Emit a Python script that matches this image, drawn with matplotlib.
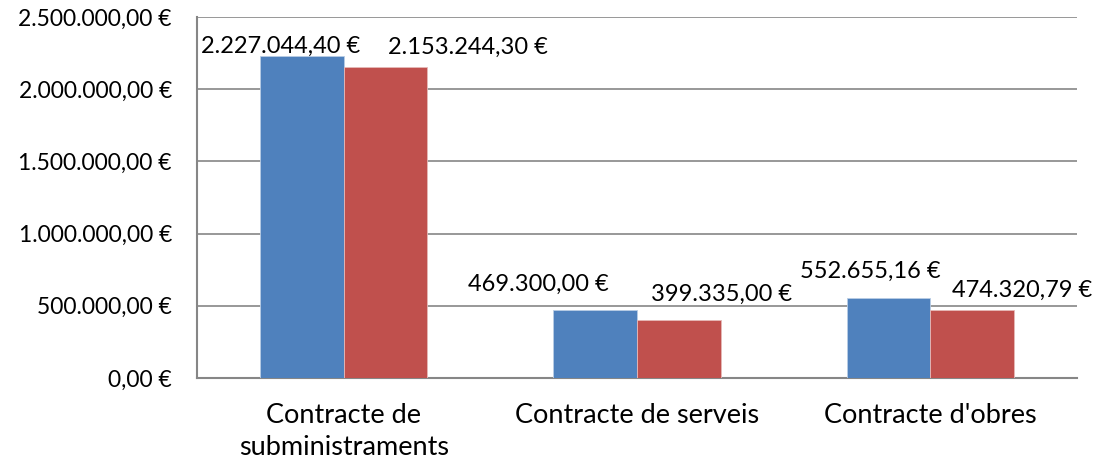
import matplotlib.pyplot as plt
import numpy as np

categories = ["Contracte de\nsubministraments", "Contracte de serveis", "Contracte d'obres"]
serie_blava = [2227044.40, 469300.00, 552655.16]
serie_vermella = [2153244.30, 399335.00, 474320.79]
y_ticks = [0, 500000, 1000000, 1500000, 2000000, 2500000]

# desplaçament manual del centre de les etiquetes (punts), com a l'original
off_blava = [(-15, 7), (-41, 19), (-13, 19)]
off_vermella = [(59, 14), (31, 19), (36, 14)]

plt.rcParams['font.family'] = ['Lato', 'DejaVu Sans']


def euros(v):
    s = f"{v:,.2f}".replace(",", "X").replace(".", ",").replace("X", ".")
    return s + " €"


fig = plt.figure(figsize=(11.02, 4.62), dpi=100)
ax = fig.add_axes([197 / 1102, (462 - 378) / 462, 880 / 1102, 361 / 462])

x = np.arange(len(categories))
w = 1 / 3.5
b1 = ax.bar(x - w / 2, serie_blava, w, color="#4F81BD", edgecolor="#B9CDE5", linewidth=0.6, zorder=3)
b2 = ax.bar(x + w / 2, serie_vermella, w, color="#C0504D", edgecolor="#E6B9B8", linewidth=0.6, zorder=3)

for bars, vals, offs in [(b1, serie_blava, off_blava), (b2, serie_vermella, off_vermella)]:
    for r, v, (dx, dy) in zip(bars, vals, offs):
        ax.annotate(euros(v), (r.get_x() + r.get_width() / 2, v),
                    xytext=(dx, dy), textcoords="offset points",
                    ha="center", va="center", fontsize=17)

ax.set_xlim(-0.5, 2.5)
ax.set_ylim(0, 2500000)
ax.set_yticks(y_ticks)
ax.set_yticklabels([euros(v) for v in y_ticks], fontsize=16.5)
ax.set_xticks(x)
ax.set_xticklabels(categories, fontsize=19.5, linespacing=1.35)
ax.tick_params(length=0)
ax.tick_params(axis="y", pad=18)
ax.tick_params(axis="x", pad=18)
ax.grid(axis="y", color="#868686", linewidth=1.2, zorder=0)
for s in ["top", "right"]:
    ax.spines[s].set_visible(False)
for s in ["left", "bottom"]:
    ax.spines[s].set_color("#868686")
    ax.spines[s].set_linewidth(1.5)

fig.savefig("out.png", dpi=100)
